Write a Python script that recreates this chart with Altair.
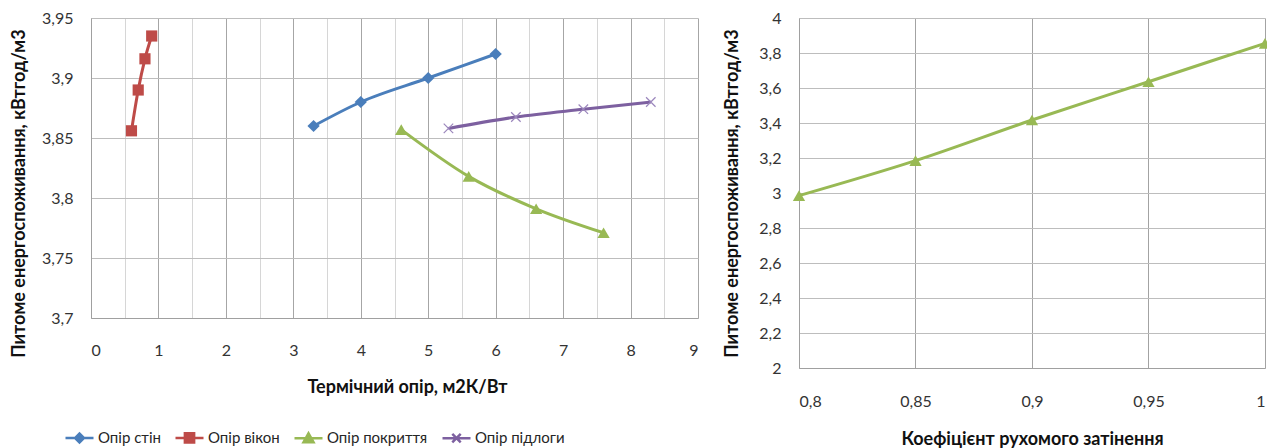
import altair as alt
import pandas as pd

# ---- data ----
series_names = ["Опір стін", "Опір вікон", "Опір покриття", "Опір підлоги"]
series_colors = ["#4A7EBB", "#BE4B48", "#98B954", "#7D60A0"]

wall_x = [3.3, 4.0, 5.0, 6.0]
wall_y = [3.860, 3.880, 3.900, 3.920]
window_x = [0.6, 0.7, 0.8, 0.9]
window_y = [3.856, 3.890, 3.916, 3.935]
roof_x = [4.6, 5.6, 6.6, 7.6]
roof_y = [3.857, 3.818, 3.791, 3.771]
floor_x = [5.3, 6.3, 7.3, 8.3]
floor_y = [3.858, 3.8675, 3.874, 3.880]

shade_x = [0.8, 0.85, 0.9, 0.95, 1.0]
shade_y = [2.985, 3.185, 3.417, 3.636, 3.855]

left_x_ticks = [i * 0.5 for i in range(19)]
left_y_ticks = [3.7, 3.75, 3.8, 3.85, 3.9, 3.95]
right_x_ticks = [0.8, 0.85, 0.9, 0.95, 1.0]
right_y_ticks = [2.0, 2.2, 2.4, 2.6, 2.8, 3.0, 3.2, 3.4, 3.6, 3.8, 4.0]

# ---- tables ----
rows = []
for name, xs, ys in zip(series_names, [wall_x, window_x, roof_x, floor_x],
                        [wall_y, window_y, roof_y, floor_y]):
    for i, (xv, yv) in enumerate(zip(xs, ys)):
        rows.append({"series": name, "x": xv, "y": yv, "i": i})
left_df = pd.DataFrame(rows)
right_df = pd.DataFrame({"x": shade_x, "y": shade_y})

FONT = "Lato"
X_SHAPE = "M-1,-1L1,1M-1,1L1,-1"
plot_shapes = ["diamond", "square", "triangle-up", X_SHAPE]
plot_sizes = [150, 125, 150, 90]
legend_shapes = [
    "M-1,0L1,0M-0.32,0L0,-0.32L0.32,0L0,0.32Z",
    "M-1,0L1,0M-0.33,-0.33L0.33,-0.33L0.33,0.33L-0.33,0.33Z",
    "M-1,0L1,0M-0.36,0.3L0,-0.34L0.36,0.3Z",
    "M-1,0L1,0M-0.3,-0.3L0.3,0.3M-0.3,0.3L0.3,-0.3",
]

xl = alt.X("x:Q", scale=alt.Scale(domain=[0, 9], nice=False, zero=False),
           axis=alt.Axis(values=left_x_ticks, title="Термічний опір, м2К/Вт",
                         labelExpr="datum.value % 1 ? '' : format(datum.value, 'd')",
                         gridColor={"condition": {"test": "datum.value % 1 == 0", "value": "#A6A6A6"},
                                    "value": "#D6D6D6"},
                         labelPadding=24, titleX=316, titleY=69, titleBaseline="middle"))
yl = alt.Y("y:Q", scale=alt.Scale(domain=[3.7, 3.95], nice=False, zero=False),
           axis=alt.Axis(values=left_y_ticks, title="Питоме енергоспоживання, кВтгод/м3",
                         labelExpr="replace(format(datum.value, '.2~f'), '.', ',')",
                         gridColor="#BDBDBD", labelPadding=18,
                         titleX=-72, titleY=175, titleBaseline="middle"))

base_left = alt.Chart(left_df)

series_layers = []
for name, col in zip(series_names, series_colors):
    sub = base_left.transform_filter(alt.datum.series == name)
    series_layers.append(
        sub.mark_line(strokeWidth=3, interpolate="monotone", color=col).encode(x=xl, y=yl, order="i:Q")
    )
for name, col, shp, sz in zip(series_names, series_colors, plot_shapes, plot_sizes):
    sub = base_left.transform_filter(alt.datum.series == name)
    if shp == X_SHAPE:
        mk = sub.mark_point(shape=shp, size=sz, filled=False, stroke="#9B86BC",
                            strokeWidth=1.2, opacity=1)
    else:
        mk = sub.mark_point(shape=shp, size=sz, filled=True, fill=col, opacity=1)
    series_layers.append(mk.encode(x=xl, y=yl))

legend_layer = base_left.mark_point(filled=True, opacity=1, strokeWidth=2.5).transform_filter(
    "false"
).encode(
    x=xl, y=yl,
    fill=alt.Fill("series:N", scale=alt.Scale(domain=series_names, range=series_colors), title=None,
                  legend=alt.Legend(orient="none", legendX=-27, legendY=404, direction="horizontal",
                                    symbolSize=784, symbolStrokeWidth=2.5,
                                    labelFontSize=15, labelFont=FONT, labelColor="#262626",
                                    labelOffset=3, columnPadding=9, labelLimit=300)),
    stroke=alt.Stroke("series:N", scale=alt.Scale(domain=series_names, range=series_colors), title=None),
    shape=alt.Shape("series:N", scale=alt.Scale(domain=series_names, range=legend_shapes), title=None),
)

left = alt.layer(*series_layers, legend_layer).properties(width=607, height=300)

xr = alt.X("x:Q", scale=alt.Scale(domain=[0.8, 1.0], nice=False, zero=False),
           axis=alt.Axis(values=right_x_ticks, title="Коефіцієнт рухомого затінення",
                         labelExpr="replace(format(datum.value, '.2~f'), '.', ',')",
                         gridColor="#A3A3A3", labelPadding=25, titleY=71, titleBaseline="middle"))
yr = alt.Y("y:Q", scale=alt.Scale(domain=[2, 4], nice=False, zero=False),
           axis=alt.Axis(values=right_y_ticks, title="Питоме енергоспоживання, кВтгод/м3",
                         labelExpr="replace(format(datum.value, '.1~f'), '.', ',')",
                         gridColor="#BDBDBD", labelPadding=18,
                         titleX=-67, titleBaseline="middle"))

base_right = alt.Chart(right_df)
right = alt.layer(
    base_right.mark_line(strokeWidth=3, color="#98B954", interpolate="monotone").encode(x=xr, y=yr),
    base_right.mark_point(shape="triangle-up", size=150, filled=True, fill="#98B954", opacity=1).encode(x=xr, y=yr),
).properties(width=466, height=350)

chart = alt.hconcat(left, right, spacing=25).resolve_scale(
    fill="independent", stroke="independent", shape="independent"
).resolve_legend(
    fill="independent", stroke="independent", shape="independent"
).properties(
    padding={"left": 1, "top": 2, "right": -5, "bottom": 0}
).configure_view(stroke=None).configure_axis(
    labelFont=FONT, labelFontSize=16, labelColor="#333333",
    titleFont=FONT, titleFontSize=18, titleFontWeight="bold", titleColor="#111111",
    ticks=False, domainColor="#A0A0A0", grid=True, gridWidth=1,
)

chart.save("out.html", embed_options={"renderer": "svg", "actions": False})
